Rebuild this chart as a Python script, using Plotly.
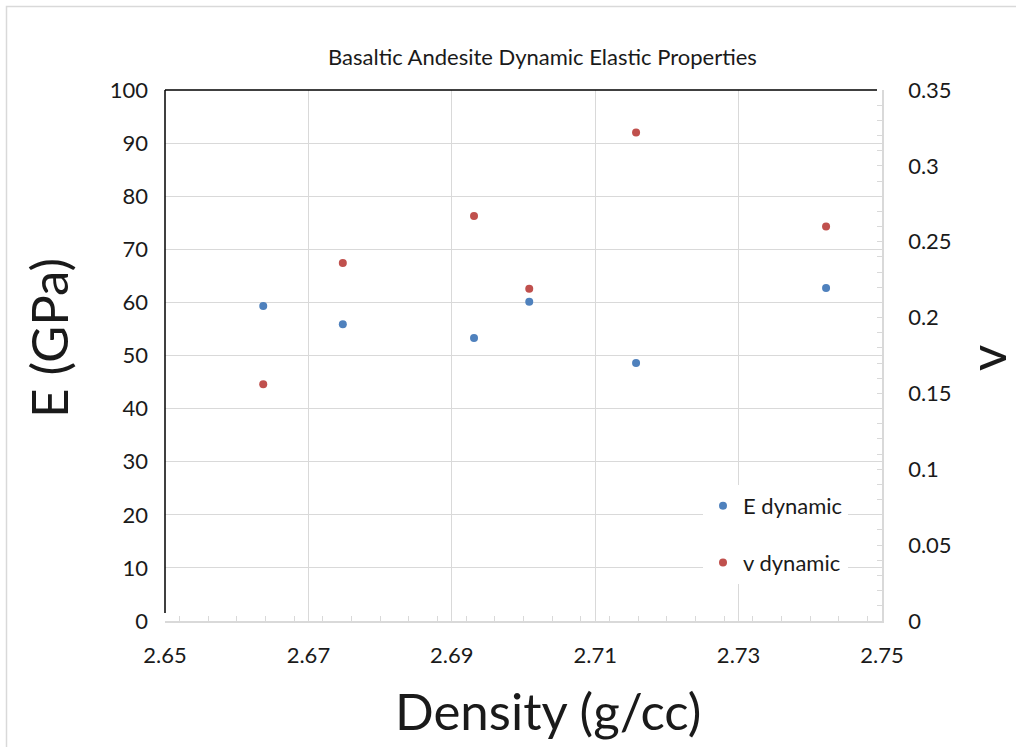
import plotly.graph_objects as go

density = [2.6637, 2.6748, 2.6931, 2.7008, 2.7157, 2.7422]
E_dynamic = [59.3, 55.9, 53.3, 60.1, 48.6, 62.7]
v_dynamic = [0.156, 0.236, 0.267, 0.219, 0.322, 0.260]

FONT = "Lato"
W, H = 1016, 747
L, R, T, B = 165, 882, 90, 621

def px(x):
    return (x - L) / (R - L)

def py(y):
    return (B - y) / (B - T)

fig = go.Figure()
fig.add_trace(go.Scatter(x=density, y=E_dynamic, mode="markers", name="E dynamic",
                         marker=dict(color="#4f81bd", size=8), legendgroup="a"))
fig.add_trace(go.Scatter(x=density, y=v_dynamic, mode="markers", name="v dynamic",
                         marker=dict(color="#c0504d", size=8), yaxis="y2", legendgroup="b"))

grid = "#d9d9d9"
TF = 22
fig.update_layout(
    width=W, height=H,
    margin=dict(l=L, r=W - R, t=T, b=H - B),
    paper_bgcolor="white", plot_bgcolor="white",
    font=dict(family=FONT, color="#1a1a1a"),
    showlegend=True,
    legend=dict(x=px(703), y=py(485), xanchor="left", yanchor="top",
                bgcolor="white", font=dict(size=22, family=FONT),
                traceorder="grouped", tracegroupgap=25),
    xaxis=dict(range=[2.65, 2.75], dtick=0.02, tick0=2.65, tickformat=".2f",
               showgrid=True, gridcolor=grid, gridwidth=1,
               showline=True, linecolor=grid, linewidth=1.5,
               ticks="inside", ticklen=5, tickcolor=grid,
               minor=dict(dtick=0.004, ticks="inside", ticklen=5, tickcolor=grid, showgrid=False),
               tickfont=dict(size=TF), zeroline=False, ticklabelstandoff=14),
    yaxis=dict(range=[0, 100], dtick=10, showgrid=True, gridcolor=grid, gridwidth=1,
               showline=False, ticks="", zeroline=False, tickfont=dict(size=TF),
               ticklabelstandoff=16),
    yaxis2=dict(range=[0, 0.35], dtick=0.05, overlaying="y", side="right",
                showgrid=False, showline=True, linecolor=grid, linewidth=1.5,
                ticks="inside", ticklen=5, tickcolor=grid,
                minor=dict(dtick=0.01, ticks="inside", ticklen=5, tickcolor=grid),
                zeroline=False, tickfont=dict(size=TF), ticklabelstandoff=20),
)

shapes = [
    dict(type="line", xref="paper", yref="paper", x0=0, x1=px(877), y0=1, y1=1,
         line=dict(color="black", width=1.5)),
    dict(type="line", xref="paper", yref="paper", x0=0, x1=0, y0=py(613), y1=1,
         line=dict(color="black", width=1.5)),
    dict(type="rect", xref="paper", yref="paper", x0=px(6.5), x1=px(1100), y0=py(800), y1=py(6.5),
         line=dict(color="#d9d9d9", width=1.5), fillcolor="rgba(0,0,0,0)", layer="below"),
]
fig.update_layout(shapes=shapes)

ann = [
    dict(text="Basaltic Andesite Dynamic Elastic Properties", x=px(542), y=py(56),
         font=dict(size=22)),
    dict(text="Density (g/cc)", x=px(548), y=py(710), font=dict(size=51)),
    dict(text="E (GPa)", x=px(48), y=py(338), font=dict(size=51), textangle=-90),
    dict(text="v", x=px(987), y=py(358), font=dict(size=51), textangle=-90),
]
for a in ann:
    a.update(xref="paper", yref="paper", showarrow=False, xanchor="center", yanchor="middle")
fig.update_layout(annotations=ann)

fig.write_html("out.html")
